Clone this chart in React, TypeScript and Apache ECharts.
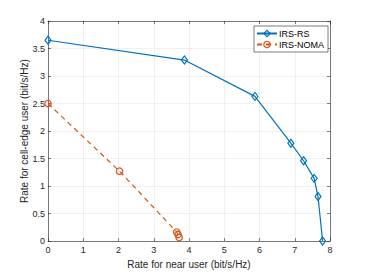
import React, { useEffect, useRef } from "react";
import * as echarts from "echarts";

const rsX = [0, 3.87, 5.87, 6.89, 7.25, 7.55, 7.66, 7.79];
const rsY = [3.65, 3.29, 2.63, 1.78, 1.46, 1.14, 0.81, 0];
const nomaX = [0, 2.03, 3.65, 3.69, 3.72];
const nomaY = [2.5, 1.27, 0.165, 0.12, 0.065];

const FONT = "Liberation Sans, Arial, Helvetica, sans-serif";
const AX = "#262626";
const HOLLOW = "rgba(255,255,255,0)";
const BLUE = "#0072BD";
const ORANGE = "#D95319";

export default function App() {
  const ref = useRef<HTMLDivElement>(null);
  useEffect(() => {
    if (!ref.current) return;
    const chart = echarts.init(ref.current, undefined, { renderer: "svg" });
    const axisCommon = {
      axisLine: { show: true, onZero: false, lineStyle: { color: AX, width: 0.6 } },
      axisTick: { show: true, inside: true, length: 3, lineStyle: { color: AX, width: 0.6 } },
    };
    chart.setOption({
      animation: false,
      backgroundColor: "#fff",
      grid: { left: 48, right: 36, top: 21, bottom: 30.5, containLabel: false },
      legend: {
        left: 254,
        top: 26,
        orient: "vertical",
        itemWidth: 20,
        itemHeight: 8,
        itemGap: 2,
        padding: [3, 4, 3, 2],
        backgroundColor: "#fff",
        borderColor: AX,
        borderWidth: 0.6,
        borderRadius: 0,
        itemStyle: { color: HOLLOW, borderWidth: 1.2 },
        textStyle: { fontFamily: FONT, fontSize: 9, color: "#000", padding: [0, 0, 0, -3] },
        data: [
          { name: "IRS-RS", itemStyle: { color: HOLLOW, borderColor: BLUE, borderWidth: 1.2 } },
          { name: "IRS-NOMA", itemStyle: { color: HOLLOW, borderColor: ORANGE, borderWidth: 1.2 } },
        ],
      },
      xAxis: [
        {
          type: "value",
          min: 0,
          max: 8,
          interval: 1,
          ...axisCommon,
          splitLine: { show: true, lineStyle: { color: "#e6e6e6", width: 0.6 } },
          axisLabel: { fontFamily: FONT, fontSize: 9, color: AX, margin: 4 },
          name: "Rate for near user (bit/s/Hz)",
          nameLocation: "middle",
          nameGap: 17,
          nameTextStyle: { fontFamily: FONT, fontSize: 10, color: AX },
        },
        {
          type: "value",
          position: "top",
          min: 0,
          max: 8,
          interval: 1,
          ...axisCommon,
          splitLine: { show: false },
          axisLabel: { show: false },
        },
      ],
      yAxis: [
        {
          type: "value",
          min: 0,
          max: 4,
          interval: 0.5,
          ...axisCommon,
          splitLine: { show: true, lineStyle: { color: "#e6e6e6", width: 0.6 } },
          axisLabel: { fontFamily: FONT, fontSize: 9, color: AX, margin: 3 },
          name: "Rate for cell-edge user (bit/s/Hz)",
          nameLocation: "middle",
          nameGap: 19,
          nameMoveOverlap: false,
          nameTextStyle: { fontFamily: FONT, fontSize: 10, color: AX },
        },
        {
          type: "value",
          position: "right",
          min: 0,
          max: 4,
          interval: 0.5,
          ...axisCommon,
          splitLine: { show: false },
          axisLabel: { show: false },
        },
      ],
      series: [
        {
          name: "IRS-RS",
          type: "line",
          data: rsX.map((x, i) => [x, rsY[i]]),
          symbol: "diamond",
          symbolSize: [6, 8],
          showAllSymbol: true,
          lineStyle: { color: BLUE, width: 1.2 },
          itemStyle: { color: HOLLOW, borderColor: BLUE, borderWidth: 1.2 },
          z: 3,
        },
        {
          name: "IRS-NOMA",
          type: "line",
          data: nomaX.map((x, i) => [x, nomaY[i]]),
          symbol: "circle",
          symbolSize: 6.5,
          showAllSymbol: true,
          lineStyle: { color: ORANGE, width: 1.2, type: [5, 4] },
          itemStyle: { color: HOLLOW, borderColor: ORANGE, borderWidth: 1.2 },
          z: 3,
        },
      ],
    });
    return () => chart.dispose();
  }, []);
  return <div ref={ref} style={{ width: 366, height: 274, position: "absolute", left: 0, top: 0 }} />;
}
